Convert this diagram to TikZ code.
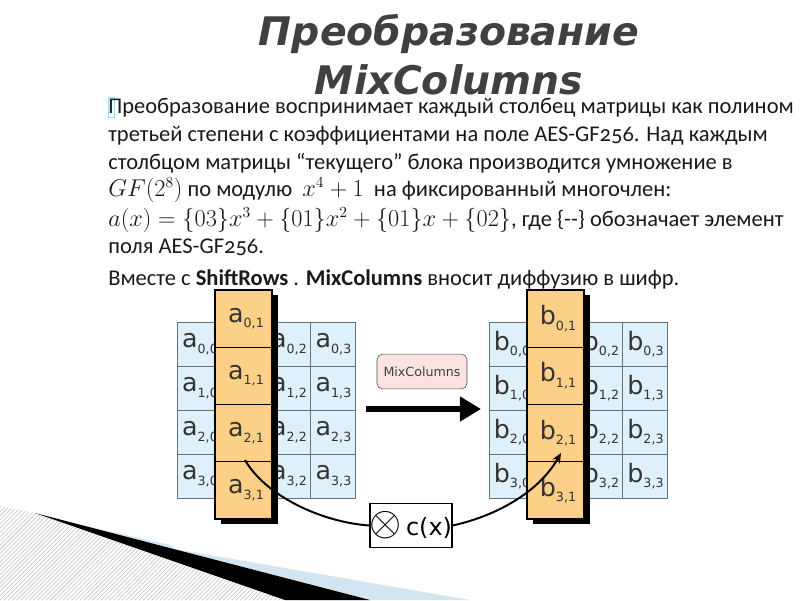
\documentclass[tikz,border=0pt]{standalone}
\usepackage{fontspec}
\setmainfont{Carlito}[Numbers=OldStyle]
\newfontfamily\dejavu{DejaVu Sans}
\usetikzlibrary{arrows.meta,patterns}

\definecolor{cellblue}{HTML}{DEF0FA}
\definecolor{cellline}{HTML}{5F7380}
\definecolor{cellorange}{HTML}{FDD088}
\definecolor{titlegray}{HTML}{404040}
\definecolor{tagpink}{HTML}{FBE4DF}
\definecolor{decoblue}{HTML}{D2E5F0}

\newcommand{\ix}[2]{#1{\fontsize{9}{9}\selectfont\raisebox{-4pt}{#2}}}

\begin{document}
\begin{tikzpicture}[x=0.025cm,y=-0.025cm,
  title/.style={anchor=base, inner sep=0, text=titlegray,
    font=\dejavu\bfseries\itshape\fontsize{28}{30}\selectfont},
  txt/.style={anchor=base west, inner sep=0, text=black!90,
    font=\fontsize{16}{19}\selectfont},
  lbl/.style={inner sep=0, text=black!80, font=\dejavu\fontsize{18}{18}\selectfont},
  bluecell/.style={fill=cellblue, draw=cellline, line width=0.5pt},
  orangecell/.style={fill=cellorange, draw=black, line width=1pt},
  curve/.style={line width=1.4pt}]
\useasboundingbox (0,0) rectangle (800,600);

% bottom decoration
\fill[pattern=north east lines, pattern color=black!25] (0,506) -- (35,513) -- (285,600) -- (0,600) -- cycle;
\fill[decoblue] (60,520) -- (170,545) -- (175,549) -- (470,600) -- (300,600) -- cycle;
\fill[black] (35,513) -- (370,600) -- (285,600) -- cycle;

% title and text
\node[title] (t1) at (449,45) {Преобразование};
\node[title] (t2) at (449,94) {MixColumns};

\node[draw=cyan!40, inner sep=0, minimum width=0.15cm, minimum height=0.5cm] (bul) at (111,107) {};
\node[txt] (l1) at (108,113) {Преобразование воспринимает каждый столбец матрицы как полином};
\node[txt] (l2) at (108,141) {третьей степени с коэффициентами на поле AES-GF256. Над каждым};
\node[txt] (l3) at (108,169) {столбцом матрицы “текущего” блока производится умножение в};
\node[txt] (l4) at (108,196) {$GF(2^8)$ по модулю~ $x^4+1$ ~на фиксированный многочлен:};
\node[txt] (l5) at (108,226) {$a(x)=\{03\}x^3+\{01\}x^2+\{01\}x+\{02\}$, где \{-{}-\} обозначает элемент};
\node[txt] (l6) at (108,253) {поля AES-GF256.};
\node[txt] (l7) at (108,285) {Вместе с \textbf{ShiftRows} . \textbf{MixColumns} вносит диффузию в шифр.};

% state before and after
\foreach \g / \dx in {a/0, b/312} {
  \foreach \r in {0,...,3}
    \foreach \c in {0,...,3}
      \draw[bluecell] ({177+\dx+44.5*\c},{322+44*\r}) rectangle ++(44.5,44);
  \foreach \r in {0,...,3}
    \foreach \c in {0,2,3}
      \node[lbl] (\g\r\c) at ({200+\dx+44.5*\c},{344+44*\r}) {\ix{\g}{\r,\c}};
  \fill[black] ({221+\dx},295) rectangle ({278+\dx},524);
  \foreach \r in {0,...,3} {
    \draw[orangecell] ({215+\dx},{290+57.25*\r}) rectangle ++(57,57.25);
    \node[lbl] (\g\r1) at ({246+\dx},{318.5+57.25*\r}) {\ix{\g}{\r,1}};
  }
}

% transformation
\node[draw=black!70, fill=tagpink, rounded corners=4pt, inner sep=0,
      minimum width=2.25cm, minimum height=0.87cm, text=black!75,
      font=\dejavu\fontsize{9}{9}\selectfont] (mc) at (422,371.5) {MixColumns};
\coordinate (mcfrom) at (366,409);
\coordinate (mcto) at (481,409);
\draw[line width=3.6pt, -{Triangle[length=15pt,width=17pt]}] (mcfrom) -- (mcto);

\node[draw=black, fill=white, line width=0.8pt, inner sep=0, minimum width=1.95cm,
      minimum height=1.12cm, font=\dejavu\fontsize{17}{17}\selectfont] (cx) at (411,525.5)
      {\scalebox{1.7}{$\otimes$}\,c(x)};
\coordinate (cstart) at (245,460);
\coordinate (cend) at (561,453);
\draw[curve] (cstart) .. controls (265,495) and (320,522) .. (cx.west);
\draw[curve, -{Stealth[length=7pt,width=6pt]}] (cx.east) .. controls (500,515) and (540,490) .. (cend);
\end{tikzpicture}
\end{document}
